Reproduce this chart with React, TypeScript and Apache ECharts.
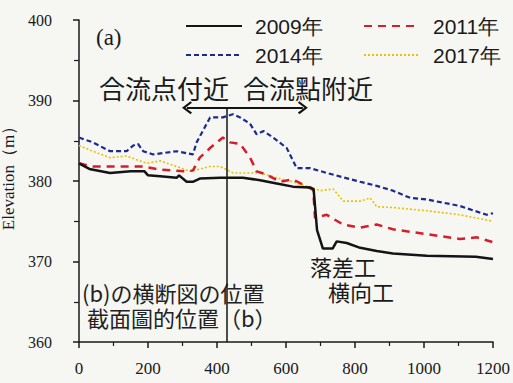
import React, { useEffect, useRef } from "react";
import * as echarts from "echarts";

const years = ["2009年", "2011年", "2014年", "2017年"];

const s2009: [number, number][] = [[0,382.2],[30,381.5],[90,381.0],[150,381.2],[190,381.2],[200,380.7],[235,380.6],[283,380.4],[290,380.7],[312,379.9],[330,379.9],[350,380.3],[410,380.4],[475,380.4],[525,380.1],[573,379.7],[620,379.3],[670,379.2],[680,379.0],[690,373.9],[707,371.6],[735,371.6],[747,372.5],[776,372.3],[815,371.7],[863,371.3],[910,371.0],[1008,370.7],[1150,370.6],[1200,370.3]];
const s2011: [number, number][] = [[0,382.2],[40,381.8],[140,381.8],[185,381.8],[235,381.4],[312,381.2],[330,381.3],[350,382.9],[380,384.1],[417,385.4],[438,384.8],[467,384.6],[496,382.9],[515,381.2],[544,380.8],[583,379.9],[620,380.2],[660,379.3],[679,378.9],[684,375.4],[699,375.6],[718,375.8],[765,374.6],[815,374.2],[863,374.6],[910,374.0],[1008,373.4],[1104,372.8],[1153,373.0],[1200,372.4]];
const s2014: [number, number][] = [[0,385.4],[40,384.8],[90,383.7],[138,383.7],[157,384.4],[171,384.6],[186,383.7],[215,383.3],[283,383.7],[330,383.3],[341,384.8],[380,387.9],[417,387.9],[446,388.3],[467,387.9],[496,387.1],[515,385.8],[535,386.2],[563,385.4],[602,384.1],[631,381.6],[670,381.6],[718,381.0],[815,379.9],[863,379.4],[910,378.8],[960,377.9],[1008,377.7],[1104,376.9],[1182,375.8],[1200,376.0]];
const s2017: [number, number][] = [[0,384.4],[40,383.7],[90,382.9],[138,383.1],[196,382.2],[235,382.5],[283,381.8],[322,381.2],[380,381.8],[409,381.8],[447,381.0],[525,381.0],[573,380.4],[620,379.9],[679,379.1],[699,378.8],[737,379.0],[766,377.5],[815,377.5],[844,377.9],[863,376.8],[911,376.7],[1008,376.3],[1104,375.8],[1200,375.0]];

// annotation anchors (data coords)
const arrowFrom: [number, number] = [313, 389.1];
const arrowTo: [number, number] = [649, 389.1];
const sectionX = 428;

const CJK = '"Noto Sans CJK JP"';
const SERIF = "Liberation Serif";
const SANS = "Liberation Sans";

const chevron = "path://M10,0 L20,12 L17.5,14 L10,5 L2.5,14 L0,12 Z";

export default function App() {
  const ref = useRef<HTMLDivElement>(null);
  useEffect(() => {
    if (!ref.current) return;
    const chart = echarts.init(ref.current, null, { renderer: "svg" });
    const legendBase = {
      itemWidth: 56,
      itemHeight: 14,
      itemStyle: { opacity: 0, borderWidth: 0 },
      textStyle: { fontSize: 21, fontFamily: SANS, color: "#1a1a1a", padding: [0, 0, 0, 8], lineHeight: 24 },
    };
    chart.setOption({
      animation: false,
      backgroundColor: "#f6f6f3",
      grid: { left: 79, right: 20, top: 20, bottom: 41, outerBoundsMode: "none", containLabel: false },
      legend: [
        { ...legendBase, left: 180, top: 9, data: [years[0]] },
        { ...legendBase, left: 358, top: 9, data: [years[1]] },
        { ...legendBase, left: 180, top: 38, data: [years[2]] },
        { ...legendBase, left: 358, top: 38, data: [years[3]] },
      ],
      xAxis: {
        type: "value",
        min: 0,
        max: 1200,
        interval: 200,
        axisLine: { lineStyle: { color: "#1a1a1a", width: 1.5 } },
        axisTick: { length: 6, lineStyle: { color: "#1a1a1a", width: 1.5 } },
        minorTick: { show: true, splitNumber: 2, length: 4, lineStyle: { color: "#1a1a1a", width: 1.2 } },
        splitLine: { show: false },
        axisLabel: { fontFamily: SERIF, fontSize: 17, color: "#1a1a1a", margin: 18, formatter: (v: number) => String(v) },
      },
      yAxis: {
        type: "value",
        min: 360,
        max: 400,
        interval: 10,
        name: "Elevation（m）",
        nameLocation: "middle",
        nameRotate: 90,
        nameGap: 50,
        nameTextStyle: { fontFamily: SERIF, fontSize: 17, color: "#1a1a1a", padding: [0, 0, 0, 14] },
        axisLine: { show: true, lineStyle: { color: "#1a1a1a", width: 1.5 } },
        axisTick: { show: true, length: 6, lineStyle: { color: "#1a1a1a", width: 1.5 } },
        minorTick: { show: true, splitNumber: 2, length: 5, lineStyle: { color: "#1a1a1a", width: 1.2 } },
        splitLine: { show: false },
        axisLabel: { fontFamily: SERIF, fontSize: 16, color: "#1a1a1a", margin: 27 },
      },
      series: [
        {
          name: years[0],
          type: "line",
          data: s2009,
          symbol: "none",
          z: 5,
          lineStyle: { color: "#141414", width: 2.5 },
          itemStyle: { color: "#141414" },
          markLine: {
            silent: true,
            animation: false,
            label: { show: false },
            lineStyle: { color: "#141414", width: 2, type: "solid" },
            symbolSize: [13, 10],
            data: [
              [
                { coord: arrowFrom, symbol: chevron },
                { coord: arrowTo, symbol: chevron },
              ],
              [
                { coord: [sectionX, arrowFrom[1]], symbol: "none", lineStyle: { width: 1.5 } },
                { coord: [sectionX, 360], symbol: "none" },
              ],
            ],
          },
        },
        {
          name: years[1],
          type: "line",
          data: s2011,
          symbol: "none",
          z: 4,
          lineStyle: { color: "#d21f2b", width: 2.5, type: [8, 6] },
          itemStyle: { color: "#d21f2b" },
        },
        {
          name: years[2],
          type: "line",
          data: s2014,
          symbol: "none",
          z: 3,
          lineStyle: { color: "#1b2a8f", width: 2.2, type: [5, 3] },
          itemStyle: { color: "#1b2a8f" },
        },
        {
          name: years[3],
          type: "line",
          data: s2017,
          symbol: "none",
          z: 2,
          lineStyle: { color: "#e8c100", width: 1.6, type: [2, 2] },
          itemStyle: { color: "#e8c100" },
        },
      ],
      graphic: [
        { type: "text", left: 96, top: 26, style: { text: "(a)", font: `23px "${SERIF}"`, fill: "#1a1a1a" } },
        { type: "text", left: 99, top: 74, style: { text: "合流点付近", font: `26px ${CJK}`, fill: "#1a1a1a" } },
        { type: "text", left: 243, top: 74, style: { text: "合流點附近", font: `26px ${CJK}`, fill: "#1a1a1a" } },
        { type: "text", left: 310, top: 255, style: { text: "落差工", font: `22px ${CJK}`, lineHeight: 22, fill: "#1a1a1a" } },
        {
          type: "text",
          left: 82,
          top: 279,
          style: { text: "(b)の横断図の位置\n 截面圖的位置（b）", font: `22px ${CJK}`, lineHeight: 25, fill: "#222" },
        },
        { type: "text", left: 328, top: 280, style: { text: "横向工", font: `22px ${CJK}`, lineHeight: 22, fill: "#1a1a1a" } },
      ],
    });
    return () => chart.dispose();
  }, []);
  return <div ref={ref} style={{ position: "fixed", left: 0, top: 0, width: 513, height: 383 }} />;
}
